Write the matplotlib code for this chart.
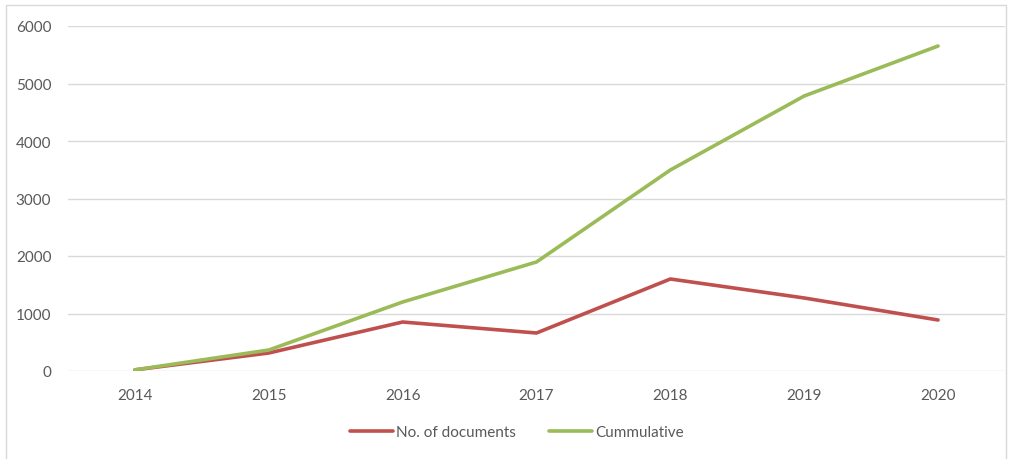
import matplotlib
matplotlib.use("Agg")
import matplotlib.pyplot as plt
from matplotlib.patches import Rectangle

years = ["2014", "2015", "2016", "2017", "2018", "2019", "2020"]
documents = [20, 313, 852, 661, 1600, 1270, 887]
cumulative = [20, 365, 1200, 1896, 3496, 4783, 5652]

plt.rcParams['font.family'] = ['Lato', 'DejaVu Sans']

fig = plt.figure(figsize=(10.13, 4.6), dpi=100)
ax = fig.add_axes([68 / 1013, 1 - 372 / 460, (1005 - 68) / 1013, (372 - 27) / 460])

x = range(len(years))
ax.plot(x, documents, color='#C0504D', lw=2.6, label='No. of documents', solid_capstyle='round')
ax.plot(x, cumulative, color='#9BBB59', lw=2.6, label='Cummulative', solid_capstyle='round')

ax.set_xlim(-0.5, len(years) - 0.5)
ax.set_ylim(0, 6000)
ax.set_yticks(range(0, 6001, 1000))
ax.set_xticks(list(x))
ax.set_xticklabels(years)
ax.grid(axis='y', color='#D9D9D9', lw=1)
ax.set_axisbelow(True)
for s in ax.spines.values():
    s.set_visible(False)
ax.tick_params(length=0, labelsize=11, colors='#595959', pad=12)
ax.tick_params(axis='x', pad=12)

fig.legend(loc='center', bbox_to_anchor=(517 / 1013, 1 - 433 / 460), ncol=2, frameon=False,
           fontsize=11, labelcolor='#595959', handlelength=2.8, handletextpad=0.2, columnspacing=2.2)

fig.patches.append(Rectangle((6 / 1013, -0.1), 1000 / 1013, 1.1 - 6 / 460, transform=fig.transFigure,
                             fill=False, edgecolor='#D9D9D9', lw=1))

fig.savefig('out.png', dpi=100)
